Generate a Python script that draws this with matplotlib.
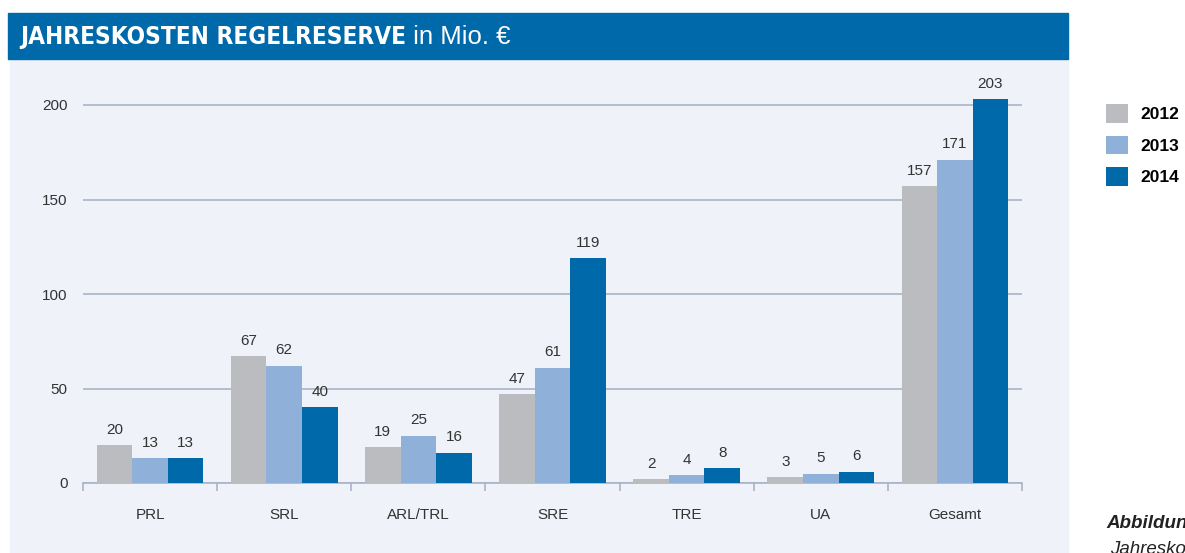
import matplotlib.pyplot as plt
import numpy as np
from matplotlib.patches import Rectangle

categories = ["PRL", "SRL", "ARL/TRL", "SRE", "TRE", "UA", "Gesamt"]
years = ["2012", "2013", "2014"]
kosten_2012 = [20, 67, 19, 47, 2, 3, 157]
kosten_2013 = [13, 62, 25, 61, 4, 5, 171]
kosten_2014 = [13, 40, 16, 119, 8, 6, 203]
colors = ["#bbbcc0", "#8fb0d9", "#0069aa"]

FONT = ["Liberation Sans", "DejaVu Sans"]
W, H = 1185, 553
fig = plt.figure(figsize=(W / 100, H / 100), dpi=100)

# panel background and title bar
fig.patches.append(Rectangle((10 / W, 0), (1068 - 10) / W, (553 - 58) / H,
                             transform=fig.transFigure, color="#eff3f9", zorder=-2))
fig.patches.append(Rectangle((8 / W, (553 - 59) / H), (1068 - 8) / W, 46 / H,
                             transform=fig.transFigure, color="#0069aa", zorder=-1))

t1 = fig.text(20 / W, 1 - 37 / H, "JAHRESKOSTEN REGELRESERVE", color="white",
              fontsize=17.5, fontweight="bold", fontstretch="condensed", va="center",
              family=["DejaVu Sans"], zorder=5)

ax = fig.add_axes([83 / W, (553 - 483) / H, 939 / W, 210 * 1.89 / H])
ax.set_zorder(2)
ax.set_facecolor("none")
ax.annotate(" in Mio. €", xy=(1, 0), xycoords=t1, color="white", fontsize=18.5,
            va="bottom", ha="left", family=FONT, annotation_clip=False)

x = np.arange(len(categories))
bw = 0.265
series = [kosten_2012, kosten_2013, kosten_2014]
handles = []
for i, (vals, c) in enumerate(zip(series, colors)):
    b = ax.bar(x + (i - 1) * bw, vals, bw, color=c, zorder=3, label=years[i])
    handles.append(b)
    for xi, v in zip(x + (i - 1) * bw, vals):
        ax.annotate(str(v), (xi, v), xytext=(0, 6), textcoords="offset points",
                    ha="center", va="bottom", fontsize=11, color="#333333",
                    family=FONT)

ax.set_xlim(-0.5, len(categories) - 0.5)
ax.set_ylim(0, 210)
ax.set_yticks([0, 50, 100, 150, 200])
ax.yaxis.grid(True, color="#aab4c6", linewidth=1.2, zorder=0)
ax.set_axisbelow(True)
for s in ["top", "right", "left"]:
    ax.spines[s].set_visible(False)
ax.spines["bottom"].set_color("#aab4c6")
ax.spines["bottom"].set_linewidth(1.2)
ax.tick_params(axis="y", length=0, pad=11, labelsize=11, labelcolor="#333333")
ax.set_xticks(np.arange(len(categories) + 1) - 0.5)
ax.set_xticklabels([])
ax.tick_params(axis="x", which="major", length=6, color="#aab4c6", width=1.2)
ax.set_xticks(x, minor=True)
ax.set_xticklabels(categories, minor=True)
ax.tick_params(axis="x", which="minor", length=0, pad=18, labelsize=11,
               labelcolor="#333333")
for lab in ax.get_xticklabels(minor=True) + ax.get_yticklabels():
    lab.set_family(FONT)

fig.legend(handles=handles, labels=years, loc="upper left",
           bbox_to_anchor=(1106 / W, 1 - 104 / H), bbox_transform=fig.transFigure,
           frameon=False, handlelength=1.27, handleheight=1.27,
           labelspacing=0.75, handletextpad=0.7, borderpad=0, borderaxespad=0,
           prop={"weight": "bold", "size": 12.5, "family": FONT})

# caption at the right edge, cut off as in the source page
fig.text(1106 / W, 1 - 523 / H, "Abbildung", fontsize=13.5, fontweight="bold",
         fontstyle="italic", va="center", color="#222222", family=FONT)
fig.text(1110 / W, 1 - 550 / H, "Jahreskosten", fontsize=13.5,
         fontstyle="italic", va="center", color="#222222", family=FONT)

fig.savefig("out.png", dpi=100)
